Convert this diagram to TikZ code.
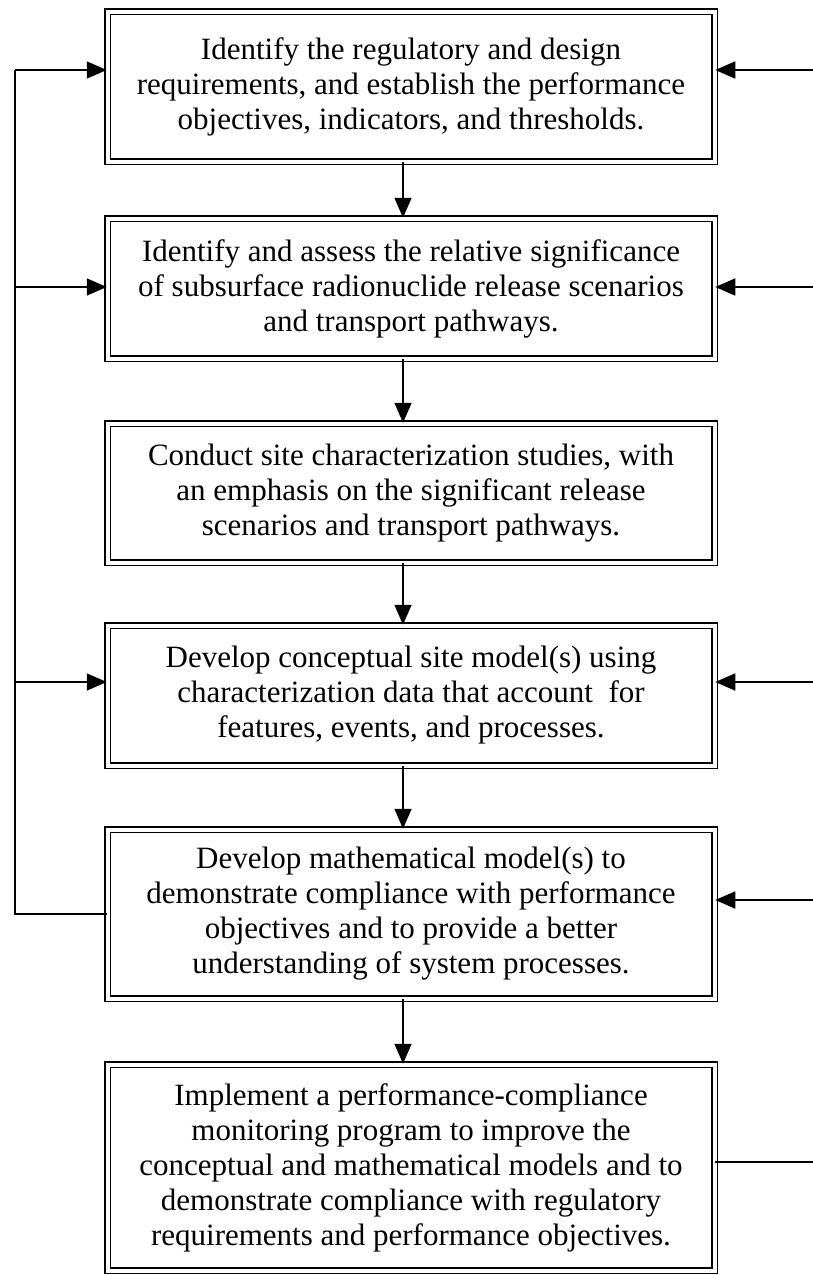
\documentclass[tikz,border=0pt]{standalone}
\usepackage{fontspec}
\setmainfont{Liberation Serif}
\usetikzlibrary{positioning, calc, arrows.meta}

\begin{document}
\begin{tikzpicture}[x=1pt, y=-1pt,
    stage/.style={draw, double, line width=1.5pt, double distance=4pt, minimum width=607pt, inner sep=0pt, align=center, font=\fontsize{31}{35}\selectfont},
    flow/.style={-{Triangle[length=20pt,width=17pt]}, line width=1.6pt},
    loop/.style={line width=1.6pt}]
    \useasboundingbox (0,0) rectangle (813,1275);

    \node (S1) at (411,86.5) [stage, minimum height=150pt] {Identify the regulatory and design\\requirements, and establish the performance\\objectives, indicators, and thresholds.};
    \node (S2) at (411,288.5) [stage, minimum height=140pt] {Identify and assess the relative significance\\of subsurface radionuclide release scenarios\\and transport pathways.};
    \node (S3) at (411,493) [stage, minimum height=139pt] {Conduct site characterization studies, with\\an emphasis on the significant release\\scenarios and transport pathways.};
    \node (S4) at (411,695.5) [stage, minimum height=140pt] {Develop conceptual site model(s) using\\characterization data that account \ for\\features, events, and processes.};
    \node (S5) at (411,914) [stage, minimum height=169pt] {Develop mathematical model(s) to\\demonstrate compliance with performance\\objectives and to provide a better\\understanding of system processes.};
    \node (S6) at (411,1167.5) [stage, minimum height=206pt] {Implement a performance-compliance\\monitoring program to improve the\\conceptual and mathematical models and to\\demonstrate compliance with regulatory\\requirements and performance objectives.};

    \foreach \i/\j in {1/2, 2/3, 3/4, 4/5, 5/6}
        \draw[flow] ([xshift=-8pt]S\i.south) -- ([xshift=-8pt]S\j.north);

    % feedback on the left
    \coordinate (L1) at (15,70);
    \draw[loop] (S5.west) -| (L1);
    \foreach \y/\n in {70/1, 287/2, 682/4}
    {
        \coordinate (L\n) at (15,\y);
        \draw[flow] (L\n) -- (L\n -| S\n.west);
    }

    % feedback on the right
    \coordinate (R6) at (813,1162);
    \draw[loop] (R6 -| S6.east) -- (R6);
    \foreach \y/\n in {70/1, 287/2, 682/4, 900/5}
    {
        \coordinate (R\n) at (813,\y);
        \draw[flow] (R\n) -- (R\n -| S\n.east);
    }
\end{tikzpicture}
\end{document}
